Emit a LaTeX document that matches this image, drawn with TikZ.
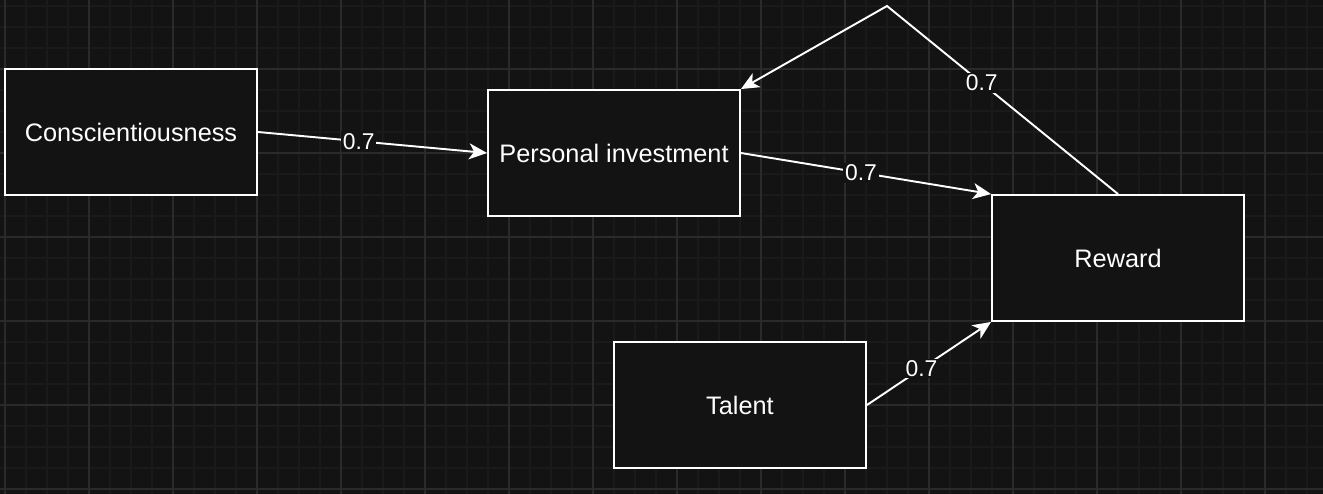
\documentclass[tikz,border=0pt]{standalone}
\usepackage{fontspec}
\setmainfont{Liberation Sans}
\usetikzlibrary{arrows.meta, positioning}
\definecolor{dbg}{HTML}{131313}
\definecolor{dgridminor}{HTML}{1A1A1A}
\definecolor{dgridmajor}{HTML}{2A2A2A}
\definecolor{dline}{HTML}{FFFFFF}
\tikzset{
  factorbox/.style={draw=dline, fill=dbg, line width=1.1pt, text=white,
                    minimum width=5.04cm, minimum height=2.52cm, inner sep=0pt,
                    font=\fontsize{14.4}{17}\selectfont},
  arr/.style={-{Stealth[length=0.36cm, width=0.32cm, inset=0.1cm]}, line width=1.1pt, dline},
  wlabel/.style={fill=dbg, text=white, inner sep=1pt, font=\fontsize{13}{15}\selectfont},
}
\begin{document}
\begin{tikzpicture}[x=0.02cm, y=-0.02cm]

  %% ── Canvas and grid ──
  \useasboundingbox (0,0) rectangle (1323,494);
  \fill[dbg] (0,0) rectangle (1323,494);
  \foreach \gx in {5,26,...,1322}
    \draw[dgridminor, line width=0.6pt] (\gx,0) -- (\gx,494);
  \foreach \gy in {6,27,...,493}
    \draw[dgridminor, line width=0.6pt] (0,\gy) -- (1323,\gy);
  \foreach \gx in {5,89,...,1322}
    \draw[dgridmajor, line width=0.6pt] (\gx,0) -- (\gx,494);
  \foreach \gy in {69,153,...,493}
    \draw[dgridmajor, line width=0.6pt] (0,\gy) -- (1323,\gy);

  %% ── Factors ──
  \node[factorbox] (consc)  at (131,132)  {Conscientiousness};
  \node[factorbox] (invest) at (614,153)  {Personal investment};
  \node[factorbox] (reward) at (1118,258) {Reward};
  \node[factorbox] (talent) at (740,405)  {Talent};

  %% ── Paths ──
  \coordinate (loop) at (887,6);
  \draw[arr] (consc.east) -- (invest.west)
    node[wlabel, pos=0.44] {0.7};
  \draw[arr] (invest.east) -- (reward.north west)
    node[wlabel, pos=0.48] {0.7};
  \draw[arr] (talent.east) -- (reward.south west)
    node[wlabel, pos=0.44] {0.7};
  \draw[arr] (reward.north) -- (loop) -- (invest.north east);
  \path (reward.north) -- (loop) node[wlabel, pos=0.59] {0.7};

\end{tikzpicture}
\end{document}
